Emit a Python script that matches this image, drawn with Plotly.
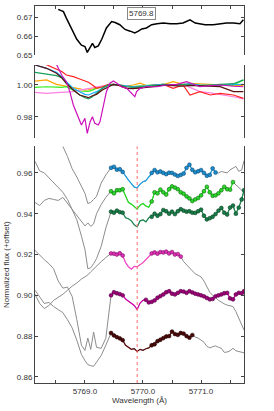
import plotly.graph_objects as go

# ---------------- top panel: reference spectrum ----------------
top_wl = [5768.54, 5768.63, 5768.68, 5768.77, 5768.86, 5768.94, 5769.00, 5769.04, 5769.09, 5769.13,
          5769.17, 5769.23, 5769.29, 5769.37, 5769.46, 5769.52, 5769.60, 5769.69, 5769.78, 5769.86,
          5769.92, 5769.98, 5770.06, 5770.15, 5770.24, 5770.35, 5770.47, 5770.58, 5770.69, 5770.81,
          5770.90, 5770.98, 5771.07, 5771.21, 5771.33, 5771.44, 5771.56, 5771.67, 5771.73]
top_flux = [0.6741, 0.6729, 0.6695, 0.6635, 0.6583, 0.6552, 0.6545, 0.6514, 0.6540, 0.6562,
            0.6540, 0.6548, 0.6583, 0.6643, 0.6677, 0.6672, 0.6660, 0.6635, 0.6626, 0.6617,
            0.6626, 0.6638, 0.6643, 0.6660, 0.6665, 0.6669, 0.6665, 0.6665, 0.6669, 0.6686,
            0.6669, 0.6665, 0.6660, 0.6660, 0.6665, 0.6669, 0.6669, 0.6665, 0.6686]
top_label = "5769.8"

# ---------------- middle panel: normalized spectra ----------------
mid_wl = [5768.14, 5768.34, 5768.51, 5768.60, 5768.68, 5768.80, 5768.91, 5769.00, 5769.06, 5769.13,
          5769.20, 5769.30, 5769.40, 5769.49, 5769.60, 5769.72, 5769.83, 5769.95, 5770.06, 5770.18,
          5770.35, 5770.52, 5770.69, 5770.81, 5770.98, 5771.16, 5771.33, 5771.56, 5771.73]
mid_red = [1.0160, 1.0126, 1.0100, 1.0085, 1.0063, 1.0053, 1.0038, 1.0025, 1.0017, 1.0000,
           0.9979, 0.9989, 1.0004, 1.0004, 0.9996, 0.9979, 0.9979, 0.9983, 0.9989, 1.0000,
           1.0004, 0.9979, 1.0000, 0.9937, 0.9958, 0.9937, 0.9947, 0.9937, 0.9916]
mid_orange = [1.0025, 1.0032, 1.0004, 0.9996, 0.9989, 0.9983, 0.9975, 0.9968, 0.9970, 0.9975,
              0.9979, 0.9985, 0.9995, 1.0004, 1.0000, 0.9995, 1.0000, 1.0011, 0.9996, 0.9998,
              1.0002, 1.0021, 1.0004, 1.0011, 1.0008, 1.0004, 0.9998, 0.9996, 0.9998]
mid_green = [0.9985, 0.9989, 0.9987, 0.9985, 0.9989, 0.9968, 0.9962, 0.9958, 0.9960, 0.9968,
             0.9979, 0.9989, 1.0000, 1.0002, 0.9998, 0.9992, 0.9990, 0.9994, 0.9996, 1.0000,
             1.0004, 1.0002, 1.0000, 1.0000, 0.9998, 1.0000, 1.0004, 1.0000, 1.0032]
mid_dkgreen = [1.0080, 1.0069, 1.0059, 1.0046, 1.0011, 0.9968, 0.9937, 0.9920, 0.9912, 0.9926,
               0.9947, 0.9979, 1.0000, 1.0004, 1.0000, 0.9989, 0.9985, 0.9987, 0.9992, 0.9996,
               1.0000, 1.0002, 1.0002, 0.9998, 0.9996, 1.0000, 1.0004, 1.0008, 1.0032]
mid_cyan = [1.0126, 1.0105, 1.0080, 1.0053, 1.0021, 0.9979, 0.9958, 0.9941, 0.9937, 0.9947,
            0.9958, 0.9979, 0.9998, 1.0004, 1.0000, 0.9992, 0.9989, 0.9990, 0.9996, 1.0000,
            1.0004, 1.0000, 1.0004, 1.0008, 1.0000, 0.9996, 1.0000, 1.0002, 1.0004]
mid_brown = [1.0126, 1.0105, 1.0074, 1.0046, 1.0011, 0.9968, 0.9937, 0.9926, 0.9920, 0.9932,
             0.9941, 0.9968, 0.9989, 1.0004, 0.9996, 0.9979, 0.9977, 0.9979, 0.9985, 0.9989,
             1.0000, 0.9996, 0.9992, 0.9998, 0.9996, 0.9992, 0.9990, 0.9958, 0.9958]
mid_pink = [0.9954, 0.9947, 0.9952, 0.9954, 0.9956, 0.9958, 0.9968, 0.9972, 0.9979, 0.9982,
            0.9989, 0.9994, 1.0000, 1.0002, 1.0000, 0.9994, 0.9989, 0.9991, 0.9993, 0.9996,
            1.0000, 1.0002, 1.0002, 0.9985, 0.9958, 0.9950, 0.9941, 0.9926, 0.9912]
mag_wl = [5768.14, 5768.34, 5768.51, 5768.60, 5768.68, 5768.74, 5768.80, 5768.89, 5768.94, 5769.00,
          5769.04, 5769.09, 5769.13, 5769.17, 5769.23, 5769.26, 5769.32, 5769.37, 5769.43, 5769.49,
          5769.55, 5769.63, 5769.72, 5769.80, 5769.86, 5769.89, 5769.95, 5770.06, 5770.24, 5770.41,
          5770.58, 5770.75, 5770.98, 5771.16, 5771.33, 5771.56, 5771.73]
mag_flux = [1.0200, 1.0135, 1.0130, 1.0063, 1.0021, 0.9958, 0.9874, 0.9800, 0.9748, 0.9790,
            0.9695, 0.9769, 0.9800, 0.9758, 0.9748, 0.9769, 0.9874, 0.9958, 1.0011, 1.0025,
            1.0011, 0.9989, 0.9979, 0.9947, 0.9926, 0.9958, 0.9979, 0.9989, 0.9989, 1.0000,
            1.0004, 1.0021, 0.9989, 0.9996, 1.0000, 0.9992, 0.9989]

# ---------------- bottom panel: offset spectra ----------------
bot_wl = [5768.14, 5768.22, 5768.30, 5768.38, 5768.46, 5768.54, 5768.62, 5768.70, 5768.78, 5768.86,
          5768.94, 5769.00, 5769.05, 5769.10, 5769.15, 5769.20, 5769.28, 5769.36,
          5769.45, 5769.50, 5769.55, 5769.60, 5769.65, 5769.70, 5769.75, 5769.80, 5769.85, 5769.90,
          5769.95, 5770.00, 5770.05, 5770.10, 5770.15, 5770.20, 5770.25, 5770.30, 5770.35, 5770.40,
          5770.45, 5770.50, 5770.55, 5770.60, 5770.65, 5770.70, 5770.75, 5770.80, 5770.85, 5770.90,
          5770.95, 5771.00, 5771.05, 5771.10, 5771.15, 5771.20, 5771.25, 5771.30, 5771.35, 5771.40,
          5771.45, 5771.50, 5771.55, 5771.60, 5771.65, 5771.70, 5771.74]
blue_flux = [0.995, 0.990, 0.986, 0.982, 0.979, 0.976, 0.973, 0.968, 0.962, 0.958,
             0.953, 0.950, 0.945, 0.9455, 0.947, 0.9485, 0.955, 0.959,
             0.9625, 0.9630, 0.9616, 0.9618, 0.9605, 0.9582, 0.9565, 0.9548, 0.9530, 0.9527,
             0.9545, 0.9557, 0.9562, 0.9580, 0.9600, 0.9614, 0.9603, 0.9607, 0.9600, 0.9594,
             0.9601, 0.9600, 0.9592, 0.9585, 0.9590, 0.9597, 0.9625, 0.9640, 0.9615, 0.9603,
             0.9608, 0.9614, 0.9600, 0.9586, 0.9590, 0.9622, 0.9602, 0.9600, 0.9607, 0.9605,
             0.9600, 0.9615, 0.9625, 0.9632, 0.9608, 0.9614, 0.9660]
green_flux = [0.9455, 0.9440, 0.9465, 0.9475, 0.9470, 0.9465, 0.9480, 0.9450, 0.9425, 0.9390,
              0.9360, 0.9340, 0.9355, 0.9338, 0.9350, 0.9400, 0.9445, 0.9480,
              0.9510, 0.9500, 0.9515, 0.9515, 0.9520, 0.9485, 0.9455, 0.9447, 0.9435, 0.9422,
              0.9442, 0.9450, 0.9438, 0.9432, 0.9460, 0.9505, 0.9500, 0.9518, 0.9505, 0.9494,
              0.9520, 0.9534, 0.9528, 0.9520, 0.9505, 0.9498, 0.9485, 0.9475, 0.9462, 0.9470,
              0.9477, 0.9490, 0.9510, 0.9532, 0.9505, 0.9488, 0.9490, 0.9500, 0.9515, 0.9532,
              0.9520, 0.9518, 0.9555, 0.9540, 0.9525, 0.9515, 0.9510]
dkgreen_flux = [0.9657, 0.9610, 0.9600, 0.9575, 0.9555, 0.9530, 0.9505, 0.9470, 0.9420, 0.9370,
                0.9290, 0.9225, 0.9130, 0.9135, 0.9155, 0.9180, 0.9240, 0.9330,
                0.9410, 0.9405, 0.9415, 0.9408, 0.9405, 0.9380, 0.9375, 0.9365, 0.9345, 0.9335,
                0.9365, 0.9370, 0.9360, 0.9380, 0.9385, 0.9400, 0.9390, 0.9398, 0.9418, 0.9412,
                0.9400, 0.9410, 0.9398, 0.9412, 0.9422, 0.9415, 0.9410, 0.9412, 0.9405, 0.9404,
                0.9412, 0.9420, 0.9390, 0.9372, 0.9378, 0.9385, 0.9398, 0.9415, 0.9428, 0.9405,
                0.9396, 0.9430, 0.9440, 0.9400, 0.9430, 0.9470, 0.9515]
pink_flux = [0.9005, 0.8960, 0.8935, 0.8950, 0.8975, 0.8990, 0.9005, 0.9025, 0.9045, 0.9060,
             0.9080, 0.9090, 0.9100, 0.9115, 0.9130, 0.9145, 0.9165, 0.9185,
             0.9205, 0.9204, 0.9200, 0.9206, 0.9195, 0.9160, 0.9140, 0.9128, 0.9142, 0.9140,
             0.9150, 0.9160, 0.9175, 0.9192, 0.9205, 0.9210, 0.9204, 0.9212, 0.9210, 0.9214,
             0.9205, 0.9212, 0.9200, 0.9202, 0.9190, 0.9165, 0.9150, 0.9135, 0.9115, 0.9105,
             0.9098, 0.9090, 0.9070, 0.9040, 0.9015, 0.9000, 0.8990, 0.8975, 0.8965, 0.8958,
             0.8952, 0.8950, 0.8945, 0.8920, 0.8890, 0.8860, 0.8830]
purple_flux = [0.9220, 0.9195, 0.9175, 0.9155, 0.9130, 0.9070, 0.9035, 0.9040, 0.8994, 0.8881,
               0.8755, 0.8730, 0.8790, 0.8735, 0.8820, 0.8745, 0.8740, 0.8790,
               0.9000, 0.9015, 0.9010, 0.9006, 0.9000, 0.8982, 0.8970, 0.8960, 0.8950, 0.8930,
               0.8962, 0.8975, 0.8978, 0.8965, 0.8968, 0.8975, 0.8988, 0.8996, 0.9004, 0.9015,
               0.9020, 0.9008, 0.9004, 0.9012, 0.9020, 0.9018, 0.9012, 0.9020, 0.9014, 0.9008,
               0.9004, 0.9000, 0.8995, 0.8987, 0.8980, 0.8982, 0.8995, 0.9000, 0.9004, 0.9010,
               0.9012, 0.8985, 0.8980, 0.9004, 0.9012, 0.9010, 0.9020]
brown_flux = [0.9025, 0.8990, 0.8960, 0.8965, 0.8945, 0.8930, 0.8915, 0.8880, 0.8840, 0.8780,
              0.8710, 0.8680, 0.8660, 0.8655, 0.8652, 0.8672, 0.8705, 0.8755,
              0.8815, 0.8803, 0.8795, 0.8789, 0.8780, 0.8755, 0.8745, 0.8735, 0.8738, 0.8725,
              0.8735, 0.8730, 0.8738, 0.8742, 0.8755, 0.8760, 0.8775, 0.8782, 0.8790, 0.8798,
              0.8800, 0.8822, 0.8810, 0.8806, 0.8815, 0.8812, 0.8800, 0.8792, 0.8805, 0.8795,
              0.8790, 0.8780, 0.8770, 0.8750, 0.8742, 0.8748, 0.8752, 0.8745, 0.8740, 0.8720,
              0.8722, 0.8728, 0.8740, 0.8728, 0.8725, 0.8720, 0.8718]

# coloured (fitted) window of each star and its marked ranges
seg_start = 5769.45
first_mark_end = 5769.65
seg_end = [5771.25, 5771.55, 5771.74, 5770.65, 5771.74, 5770.85]
mark_start = [5770.15, 5770.15, 5770.15, 5770.15, 5770.05, 5770.15]
line_wl = 5769.90

stars = [blue_flux, green_flux, dkgreen_flux, pink_flux, purple_flux, brown_flux]
for s in stars:
    assert len(s) == len(bot_wl), len(s)
assert len(top_wl) == len(top_flux)
for m in [mid_red, mid_orange, mid_green, mid_dkgreen, mid_cyan, mid_brown, mid_pink]:
    assert len(m) == len(mid_wl)
assert len(mag_wl) == len(mag_flux)

# ---------------- styles ----------------
star_line = ["#1EA0E6", "#22E01E", "#178A4E", "#FF48CC", "#D400A8", "#5A0C0C"]
star_mark = ["#1C8ED0", "#2BD82B", "#187E48", "#E030B8", "#A0007C", "#4A0808"]
star_edge = ["#0C4A70", "#0A6A0A", "#0A4024", "#7A1060", "#50003C", "#200000"]
GRAY = "#8C8C8C"
FONT = "Liberation Sans, Arial, sans-serif"

fig = go.Figure()

# top panel
fig.add_trace(go.Scatter(x=top_wl, y=top_flux, mode="lines", xaxis="x3", yaxis="y3",
                         line=dict(color="black", width=1.5), showlegend=False, hoverinfo="skip"))

# middle panel
mid_series = [(mid_orange, "#FFA500"), (mid_green, "#33EE22"), (mid_pink, "#FF80E0"),
              (mid_red, "#FF2222"), (mid_cyan, "#1AAEFF"), (mid_dkgreen, "#17A05A"),
              (mid_brown, "#5A1010")]
for vals, col in mid_series:
    fig.add_trace(go.Scatter(x=mid_wl, y=vals, mode="lines", xaxis="x2", yaxis="y2",
                             line=dict(color=col, width=1.2), showlegend=False, hoverinfo="skip"))
fig.add_trace(go.Scatter(x=mag_wl, y=mag_flux, mode="lines", xaxis="x2", yaxis="y2",
                         line=dict(color="#CC10BB", width=1.2), showlegend=False, hoverinfo="skip"))

# bottom panel: gray full spectra
for s in stars:
    fig.add_trace(go.Scatter(x=bot_wl, y=s, mode="lines", xaxis="x", yaxis="y",
                             line=dict(color=GRAY, width=1), showlegend=False, hoverinfo="skip"))
# coloured windows and markers
for i, s in enumerate(stars):
    cx = [w for w in bot_wl if seg_start <= w <= seg_end[i] + 1e-9]
    cy = [v for w, v in zip(bot_wl, s) if seg_start <= w <= seg_end[i] + 1e-9]
    fig.add_trace(go.Scatter(x=cx, y=cy, mode="lines", xaxis="x", yaxis="y",
                             line=dict(color=star_line[i], width=1.2), showlegend=False, hoverinfo="skip"))
    mx = [w for w in cx if w <= first_mark_end + 1e-9 or w >= mark_start[i] - 1e-9]
    my = [v for w, v in zip(cx, cy) if w <= first_mark_end + 1e-9 or w >= mark_start[i] - 1e-9]
    fig.add_trace(go.Scatter(x=mx, y=my, mode="markers", xaxis="x", yaxis="y",
                             marker=dict(color=star_mark[i], size=3.8, symbol="circle",
                                         line=dict(color=star_edge[i], width=0.6)),
                             showlegend=False, hoverinfo="skip"))

AX = "#444444"
common_y = dict(showline=True, linecolor=AX, linewidth=1, mirror="ticks", ticks="inside",
                ticklen=3, tickcolor=AX, showgrid=False, zeroline=False, automargin=False,
                tickfont=dict(size=8, color="#333", family=FONT))
XR = [5768.14, 5771.74]

fig.update_layout(
    width=274, height=411,
    margin=dict(l=35, r=30, t=6, b=28),
    paper_bgcolor="white", plot_bgcolor="white",
    font=dict(family=FONT, size=8, color="#333"),
    xaxis=dict(domain=[0, 1], anchor="y", range=XR, showline=True, linecolor=AX, linewidth=1,
               ticks="inside", ticklen=3, tickcolor=AX, dtick=1, tick0=5769, tickformat=".1f",
               minor=dict(dtick=0.5, tick0=5769, ticks="inside", ticklen=3, tickcolor=AX),
               showgrid=False, zeroline=False, automargin=False,
               tickfont=dict(size=8, color="#333", family=FONT),
               title=dict(text="Wavelength (Å)", standoff=2, font=dict(size=8, color="#333"))),
    yaxis=dict(domain=[0, 0.6276], anchor="x", range=[0.857, 0.973],
               tickvals=[0.86, 0.88, 0.90, 0.92, 0.94, 0.96], tickformat=".2f",
               title=dict(text="Normalized flux (+offset)", standoff=6, font=dict(size=8, color="#333")),
               **common_y),
    xaxis2=dict(domain=[0, 1], anchor="y2", range=XR, matches="x", showline=False,
                showticklabels=False, ticks="", showgrid=False, zeroline=False),
    yaxis2=dict(domain=[0.6499, 0.8435], anchor="x2", range=[0.9666, 1.0126],
                tickvals=[0.98, 1.00], tickformat=".2f", **common_y),
    xaxis3=dict(domain=[0, 1], anchor="y3", range=XR, matches="x", side="top", showline=True,
                linecolor=AX, linewidth=1, ticks="inside", ticklen=3, tickcolor=AX, dtick=0.5,
                tick0=5769, showticklabels=False, showgrid=False, zeroline=False),
    yaxis3=dict(domain=[0.870, 1.0], anchor="x3", range=[0.65, 0.6759],
                tickvals=[0.65, 0.66, 0.67], tickformat=".2f", **common_y),
    shapes=[dict(type="line", xref="x", yref="y domain", x0=line_wl, x1=line_wl, y0=0, y1=1,
                 line=dict(color="#FF6A6A", width=1, dash="dot"))],
    annotations=[dict(text=top_label, xref="x3", yref="y3", x=5769.97, y=0.6717,
                      showarrow=False, font=dict(size=8, color="#333", family=FONT),
                      bordercolor="#888", borderwidth=1, borderpad=1, bgcolor="white")],
)

fig.write_html("out.html", config={"displayModeBar": False},
               post_script="document.body.style.margin='0';")
